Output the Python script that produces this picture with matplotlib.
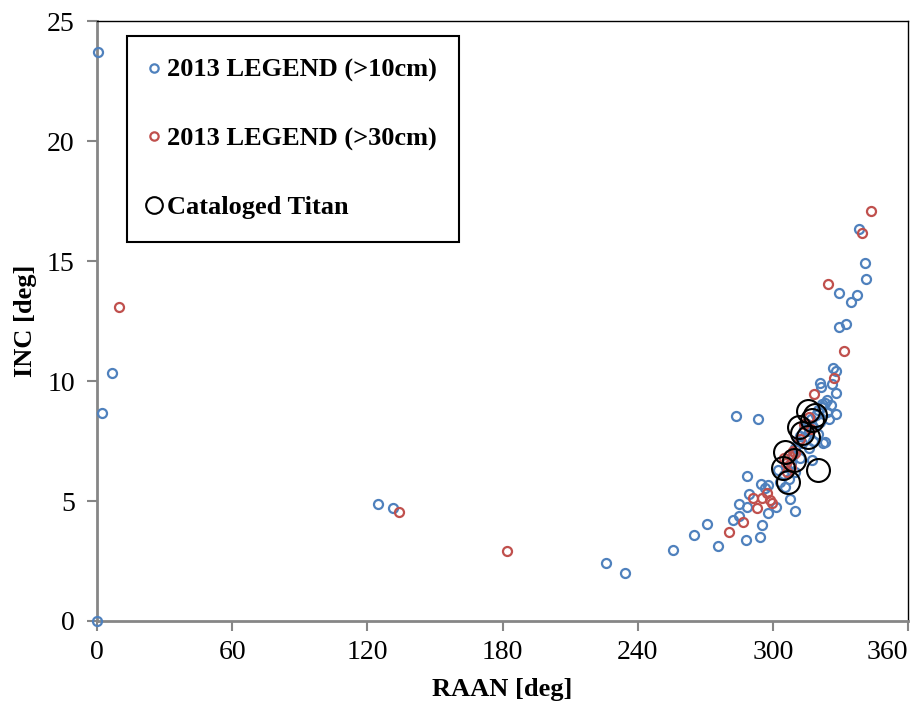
import matplotlib.pyplot as plt
from matplotlib.lines import Line2D

# 2013 LEGEND (>10cm)
blue_raan = [0.0, 0.4, 2.2, 6.7, 124.7, 131.4, 226.0, 234.4, 255.7, 265.0,
             270.8, 275.7, 282.3, 283.6, 285.0, 285.0, 288.1, 288.5, 288.5, 289.4,
             293.4, 294.3, 294.7, 295.2, 296.5, 297.9, 297.9, 301.4, 302.3, 305.4,
             307.6, 309.8, 303.0, 305.0, 306.0, 307.0, 308.0, 309.0, 310.0, 311.0,
             312.0, 313.0, 314.0, 315.0, 316.0, 317.0, 318.0, 319.0, 320.0, 321.0,
             322.0, 323.0, 316.0, 318.0, 320.0, 312.0, 310.0, 324.0, 323.2, 322.3,
             317.4, 328.0, 324.0, 322.0, 326.0, 320.9, 321.4, 326.3, 328.0, 326.7,
             328.0, 329.4, 332.5, 329.4, 334.7, 337.4, 338.2, 340.9, 341.4, 325.0]
blue_inc = [0.0, 23.7, 8.65, 10.35, 4.88, 4.70, 2.42, 2.00, 2.96, 3.58,
            4.04, 3.13, 4.21, 8.54, 4.88, 4.38, 3.38, 6.04, 4.75, 5.29,
            8.42, 3.50, 5.71, 4.00, 5.54, 5.67, 4.50, 4.75, 6.29, 5.58,
            5.08, 4.58, 5.80, 6.10, 6.40, 5.90, 6.60, 6.90, 7.20, 7.50,
            7.70, 7.40, 8.00, 8.20, 7.90, 8.40, 8.10, 8.60, 8.80, 8.30,
            8.90, 9.10, 7.20, 7.50, 7.80, 6.80, 6.20, 8.70, 7.46, 7.42,
            6.71, 8.63, 9.21, 9.05, 9.00, 9.92, 9.75, 9.88, 9.50, 10.54,
            10.42, 12.25, 12.38, 13.67, 13.29, 13.58, 16.33, 14.92, 14.25, 8.40]

# 2013 LEGEND (>30cm)
red_raan = [9.8, 134.0, 182.0, 280.5, 286.8, 291.2, 293.0, 295.2, 297.4, 298.7,
            299.6, 305.0, 306.0, 306.5, 307.0, 308.0, 309.0, 310.0, 312.0, 314.0,
            316.0, 317.0, 318.3, 327.1, 331.6, 324.5, 339.6, 343.6]
red_inc = [13.1, 4.54, 2.92, 3.71, 4.13, 5.13, 4.71, 5.13, 5.33, 5.04,
           4.92, 6.80, 6.60, 6.20, 6.90, 6.40, 7.10, 7.00, 7.60, 8.20,
           8.50, 8.00, 9.46, 10.13, 11.25, 14.04, 16.17, 17.08]

# Cataloged Titan
titan_raan = [315.6, 318.7, 317.2, 311.5, 312.8, 315.5, 305.3, 309.3, 304.5, 306.6, 320.0]
titan_inc = [8.75, 8.58, 8.37, 8.08, 7.83, 7.67, 7.04, 6.71, 6.37, 5.79, 6.29]

plt.rcParams['font.family'] = ['Liberation Serif', 'DejaVu Serif']

fig = plt.figure(figsize=(9.12, 7.02), dpi=100)
ax = fig.add_axes([0.1064, 0.1154, 0.8892, 0.8546])

blue = '#4F81BD'
red = '#C0504D'

ax.plot(blue_raan, blue_inc, 'o', ms=6.5, mfc='none', mec=blue, mew=1.6, clip_on=False, zorder=3)
ax.plot(red_raan, red_inc, 'o', ms=6.5, mfc='none', mec=red, mew=1.6, clip_on=False, zorder=4)
ax.plot(titan_raan, titan_inc, 'o', ms=16.5, mfc='none', mec='black', mew=1.5, zorder=5)

ax.set_xlim(0, 360)
ax.set_ylim(0, 25)
ax.set_xticks(range(0, 361, 60))
ax.set_yticks(range(0, 26, 5))

for s in ['left', 'bottom']:
    ax.spines[s].set_color('#868686')
    ax.spines[s].set_linewidth(2.0)
for s in ['top', 'right']:
    ax.spines[s].set_color('black')
    ax.spines[s].set_linewidth(1.0)

ax.tick_params(axis='both', direction='out', length=7, width=1.5, color='#868686',
               labelsize=20)
ax.tick_params(axis='y', pad=9)
ax.tick_params(axis='x', pad=7)
fig.canvas.draw()
ax.get_xticklabels()[-1].set_ha('right')

ax.set_xlabel('RAAN [deg]', fontsize=19, fontweight='bold', labelpad=9)
ax.set_ylabel('INC [deg]', fontsize=19, fontweight='bold', labelpad=7)

handles = [
    Line2D([], [], ls='none', marker='o', ms=6, mfc='none', mec=blue, mew=1.6),
    Line2D([], [], ls='none', marker='o', ms=6, mfc='none', mec=red, mew=1.6),
    Line2D([], [], ls='none', marker='o', ms=12, mfc='none', mec='black', mew=1.5),
]
labels = ['2013 LEGEND (>10cm)', '2013 LEGEND (>30cm)', 'Cataloged Titan']
leg = ax.legend(handles, labels, loc='upper left', bbox_to_anchor=(0.037, 0.975),
                prop={'weight': 'bold', 'size': 19}, frameon=True, fancybox=False,
                edgecolor='black', framealpha=1, labelspacing=1.7, handletextpad=0.3,
                handlelength=0.35, borderpad=0.85, borderaxespad=0)
leg.get_frame().set_linewidth(1.5)

fig.savefig('out.png', dpi=100)
